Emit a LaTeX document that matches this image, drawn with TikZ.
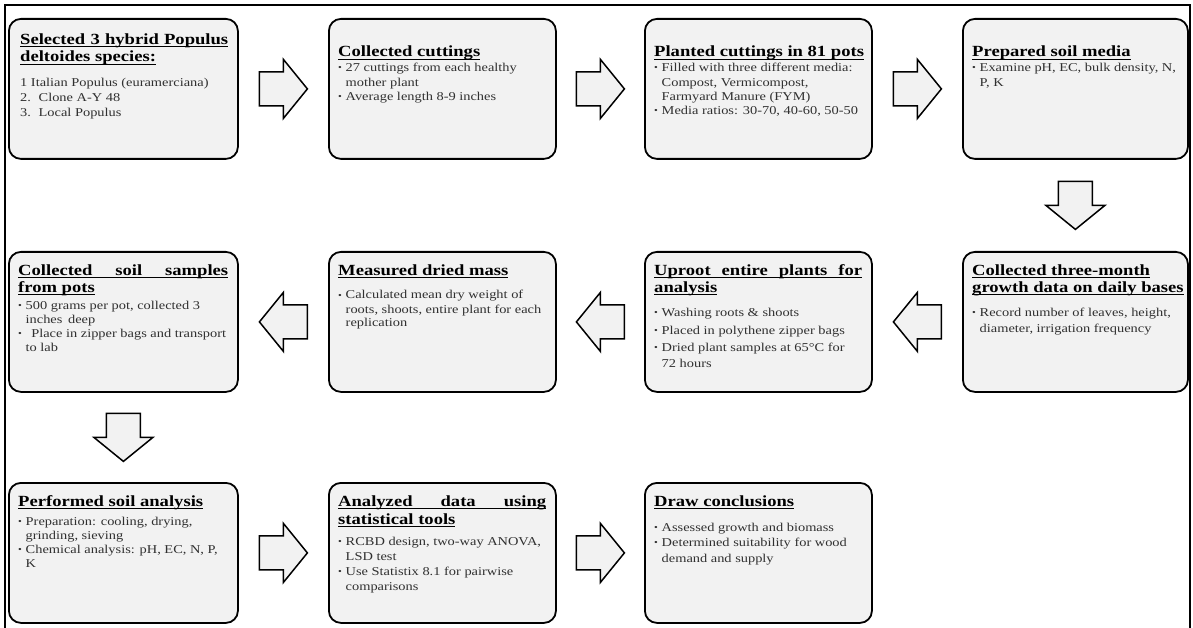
\documentclass[tikz,border=0pt]{standalone}
\usepackage{fontspec}
\usepackage{graphicx}
\setmainfont[FakeStretch=1.2]{Liberation Serif}
\usetikzlibrary{calc}
\definecolor{boxfill}{HTML}{F2F2F2}
\definecolor{bodytext}{HTML}{303030}
\newcommand\ttl[1]{\leavevmode\setbox0\hbox{#1}\rlap{\rule[-2.7pt]{\wd0}{1pt}}\box0}
\newcommand\jttl[2]{\ttl{\makebox[#1pt][s]{#2}}}
\newcommand\bu{\makebox[7.5pt][l]{\raisebox{1pt}{\scalebox{0.75}{\textbullet}}}}
\newcommand\cont{\hspace*{7.5pt}}
\newcommand\Tf{\fontsize{15.5pt}{17.5pt}\selectfont\bfseries}
\newcommand\Bf[1]{\fontsize{12pt}{#1pt}\selectfont\mdseries\color{bodytext}}
\newcommand\bx[1]{\parbox[t]{260pt}{\raggedright #1}}
\tikzset{
  box/.style={draw=black, line width=1.8pt, fill=boxfill, rounded corners=12pt,
    minimum height=140pt, inner sep=0pt, anchor=north west},
  txt/.style={anchor=base west, inner sep=0pt},
  arr/.style={draw=black, line width=1.5pt, fill=boxfill, line join=miter},
  rarr/.pic={\draw[arr] (-24,-17) -- (0,-17) -- (0,-29.5) -- (24,0) -- (0,29.5) -- (0,17) -- (-24,17) -- cycle;}
}
\begin{document}
\begin{tikzpicture}[x=1pt,y=-1pt]
\useasboundingbox (0,0) rectangle (1193,628);
\draw[line width=1.8pt] (5,640) -- (5,5) -- (1190,5) -- (1190,640);
% row 1
\node[box, minimum width=229pt] (b1) at (8,18) {};
\node[box, minimum width=227pt] (b2) at (328,18) {};
\node[box, minimum width=227pt] (b3) at (644,18) {};
\node[box, minimum width=225pt] (b4) at (962,18) {};
% row 2
\node[box, minimum width=229pt] (b5) at (8,251) {};
\node[box, minimum width=227pt] (b6) at (328,251) {};
\node[box, minimum width=227pt] (b7) at (644,251) {};
\node[box, minimum width=225pt] (b8) at (962,251) {};
% row 3
\node[box, minimum width=229pt] (b9) at (8,482) {};
\node[box, minimum width=227pt] (b10) at (328,482) {};
\node[box, minimum width=227pt] (b11) at (644,482) {};

% texts
\node[txt] (t1) at ([shift={(12,26.5)}]b1.north west) {\bx{\Tf\jttl{208}{Selected 3 hybrid Populus}\\\ttl{deltoides species:}\par\vspace{9.5pt}
\Bf{15}1 Italian Populus (euramerciana)\\
\makebox[18.5pt][l]{2.}Clone A-Y 48\\
\makebox[18.5pt][l]{3.}Local Populus}};

\node[txt] (t2) at ([shift={(10,39)}]b2.north west) {\bx{\Tf\ttl{Collected cuttings}\par\vspace{0.5pt}
\Bf{14.5}\bu 27 cuttings from each healthy\\\cont mother plant\\
\bu Average length 8-9 inches}};

\node[txt] (t3) at ([shift={(10,39)}]b3.north west) {\bx{\Tf\ttl{Planted cuttings in 81 pots}\par\vspace{0.8pt}
\Bf{14.2}\bu Filled with three different media:\\\cont Compost, Vermicompost,\\\cont Farmyard Manure (FYM)\\
\bu Media ratios: 30-70, 40-60, 50-50}};

\node[txt] (t4) at ([shift={(10,39)}]b4.north west) {\bx{\Tf\ttl{Prepared soil media}\par\vspace{0.8pt}
\Bf{14.2}\bu Examine pH, EC, bulk density, N,\\\cont P, K}};

\node[txt] (t5) at ([shift={(10,24)}]b5.north west) {\bx{\Tf\jttl{210}{Collected soil samples}\\\ttl{from pots}\par\vspace{2.2pt}
\Bf{14.3}\bu 500 grams per pot, collected 3\\\cont inches\, deep\\
\bu\, Place in zipper bags and transport\\\cont to lab}};

\node[txt] (t6) at ([shift={(10,24)}]b6.north west) {\bx{\Tf\ttl{Measured dried mass}\par\vspace{10pt}
\Bf{14}\bu Calculated mean dry weight of\\\cont roots, shoots, entire plant for each\\\cont replication}};

\node[txt] (t7) at ([shift={(10,24)}]b7.north west) {\bx{\Tf\jttl{208}{Uproot entire plants for}\\\ttl{analysis}\par\vspace{8pt}
\Bf{15.5}\bu Washing roots \& shoots\\[2.5pt]
\bu Placed in polythene zipper bags\\[2pt]
\bu Dried plant samples at 65°C for\\\cont 72 hours}};

\node[txt] (t8) at ([shift={(10,24)}]b8.north west) {\bx{\Tf\ttl{Collected three-month}\\\ttl{growth data on daily bases}\par\vspace{8.5pt}
\Bf{15.5}\bu Record number of leaves, height,\\\cont diameter, irrigation frequency}};

\node[txt] (t9) at ([shift={(10,24.5)}]b9.north west) {\bx{\Tf\ttl{Performed soil analysis}\par\vspace{4.2pt}
\Bf{14.3}\bu Preparation: cooling, drying,\\\cont grinding, sieving\\
\bu Chemical analysis: pH, EC, N, P,\\\cont K}};

\node[txt] (t10) at ([shift={(10,24.5)}]b10.north west) {\bx{\Tf\jttl{208}{Analyzed data using}\\\ttl{statistical tools}\par\vspace{6pt}
\Bf{15}\bu RCBD design, two-way ANOVA,\\\cont LSD test\\
\bu Use Statistix 8.1 for pairwise\\\cont comparisons}};

\node[txt] (t11) at ([shift={(10,24.5)}]b11.north west) {\bx{\Tf\ttl{Draw conclusions}\par\vspace{9pt}
\Bf{15.5}\bu Assessed growth and biomass\\
\bu Determined suitability for wood\\\cont demand and supply}};

% arrows
\coordinate (m12) at ($(b1.east)!0.5!(b2.west)$);
\coordinate (m23) at ($(b2.east)!0.5!(b3.west)$);
\coordinate (m34) at ($(b3.east)!0.5!(b4.west)$);
\coordinate (m48) at ($(b4.south)!0.5!(b8.north)$);
\coordinate (m87) at ($(b8.west)!0.5!(b7.east)$);
\coordinate (m76) at ($(b7.west)!0.5!(b6.east)$);
\coordinate (m65) at ($(b6.west)!0.5!(b5.east)$);
\coordinate (m59) at ($(b5.south)!0.5!(b9.north)$);
\coordinate (m910) at ($(b9.east)!0.5!(b10.west)$);
\coordinate (m1011) at ($(b10.east)!0.5!(b11.west)$);
\pic at (m12) {rarr};
\pic at (m23) {rarr};
\pic at (m34) {rarr};
\pic[rotate=-90] at (m48) {rarr};
\pic[rotate=180] at (m87) {rarr};
\pic[rotate=180] at (m76) {rarr};
\pic[rotate=180] at (m65) {rarr};
\pic[rotate=-90] at (m59) {rarr};
\pic at (m910) {rarr};
\pic at (m1011) {rarr};
\end{tikzpicture}
\end{document}
